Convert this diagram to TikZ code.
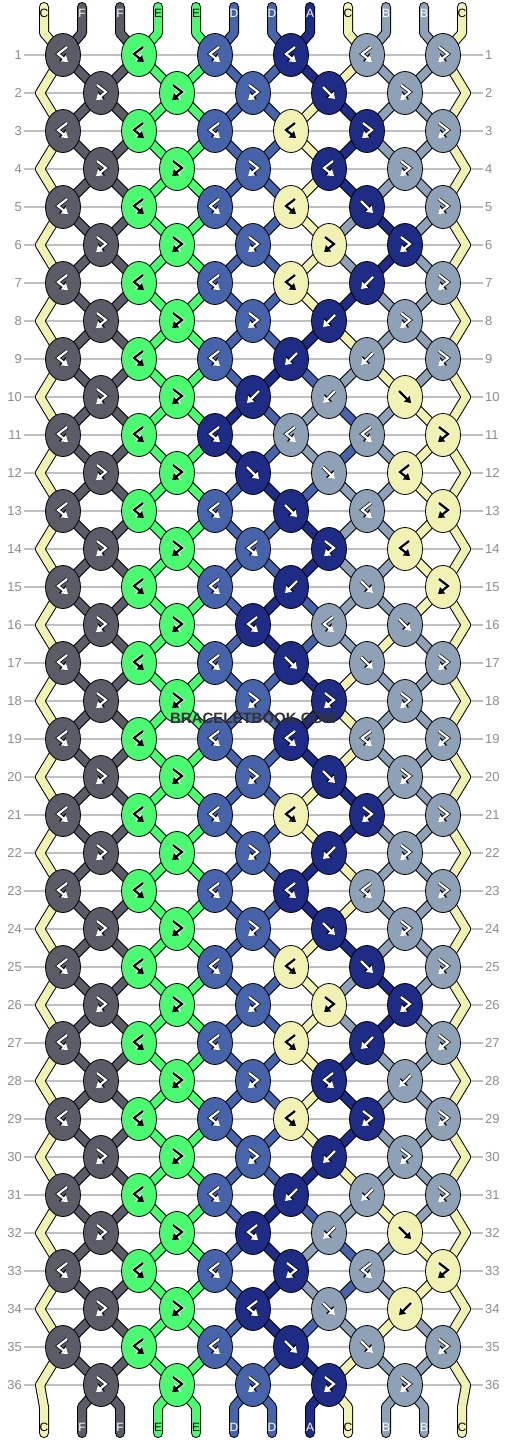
\documentclass[tikz,border=0pt]{standalone}
\usepackage{fontspec}
\setmainfont{Liberation Sans}
\usetikzlibrary{shapes.geometric,arrows.meta}

\definecolor{thrA}{HTML}{1E2C85}
\definecolor{thrB}{HTML}{8FA1B6}
\definecolor{thrC}{HTML}{F2F1B4}
\definecolor{thrD}{HTML}{4763A9}
\definecolor{thrE}{HTML}{4CFA72}
\definecolor{thrF}{HTML}{5B5C67}
\colorlet{txtA}{white}\colorlet{txtB}{white}\colorlet{txtC}{black}
\colorlet{txtD}{white}\colorlet{txtE}{black}\colorlet{txtF}{white}
\colorlet{rimA}{black}\colorlet{rimB}{black}\colorlet{rimC}{white}
\colorlet{rimD}{black}\colorlet{rimE}{white}\colorlet{rimF}{black}
\def\tyf{f}\def\tyb{b}\def\tyfb{fb}\def\tybf{bf}

% one row of knots: knot colours and the threads after the row
\newcommand\tierknots[2]{%
  \foreach \ty [count=\kn] in {#2} {%
    \ifodd#1\relax \pgfmathtruncatemacro\lp{2*\kn-1}\else \pgfmathtruncatemacro\lp{2*\kn}\fi
    \pgfmathtruncatemacro\rp{\lp+1}%
    \edef\lc{\csname s\lp\endcsname}\edef\rc{\csname s\rp\endcsname}\edef\tc{\ty}%
    \ifx\tc\tyf \edef\kc{\lc}\def\sw{1}\fi
    \ifx\tc\tyb \edef\kc{\rc}\def\sw{1}\fi
    \ifx\tc\tyfb \edef\kc{\lc}\def\sw{0}\fi
    \ifx\tc\tybf \edef\kc{\rc}\def\sw{0}\fi
    \expandafter\xdef\csname kc#1-\kn\endcsname{\kc}%
    \expandafter\xdef\csname kt#1-\kn\endcsname{\tc}%
    \ifnum\sw=1 \expandafter\xdef\csname s\lp\endcsname{\rc}\expandafter\xdef\csname s\rp\endcsname{\lc}\fi
  }%
  \foreach \p in {1,...,12} {\expandafter\xdef\csname h#1-\p\endcsname{\csname s\p\endcsname}}%
}

\begin{document}
\begin{tikzpicture}[x=1pt,y=-1pt,
  knot/.style={ellipse,draw=black,line width=0.8pt,minimum width=35pt,minimum height=43pt,inner sep=0pt},
  edgeline/.style={draw=black,line width=10pt,line cap=round,line join=round},
  threadline/.style={line width=8pt,line cap=round,line join=round},
  iconrim/.style={line width=3.6pt,-{Triangle[length=7.5pt,width=10pt]}},
  icon/.style={line width=2.2pt,-{Triangle[length=6pt,width=8pt]}},
  rowline/.style={draw=black!25,line width=1.2pt},
  rowlab/.style={text=black!45,font=\fontsize{13}{13}\selectfont,inner sep=2pt},
  endlab/.style={font=\fontsize{12}{12}\selectfont,inner sep=0pt}]
  \useasboundingbox (0,0) rectangle (506,1440);

  \foreach \p/\lt in {1/C,2/F,3/F,4/E,5/E,6/D,7/D,8/A,9/C,10/B,11/B,12/C} {
    \expandafter\xdef\csname s\p\endcsname{\lt}
    \expandafter\xdef\csname h0-\p\endcsname{\lt}
    \pgfmathsetmacro\x{44+38*(\p-1)}
    \coordinate (T-\p) at (\x,7);
    \coordinate (Tb-\p) at (\x,33);
    \coordinate (Ub-\p) at (\x,1407);
    \coordinate (U-\p) at (\x,1433);
  }
  \foreach \rw in {1,...,36} {
    \pgfmathsetmacro\y{55+38*(\rw-1)}
    \foreach \p in {1,...,12} {
      \ifodd\rw\relax
        \pgfmathsetmacro\x{76*int((\p+1)/2)-13}
      \else
        \pgfmathsetmacro\x{\p==1 ? 40 : (\p==12 ? 466 : 25+76*int(\p/2))}
      \fi
      \coordinate (P-\rw-\p) at (\x,\y);
    }
  }

  \tierknots{1}{bf,bf,bf,bf,bf,fb}
  \tierknots{2}{fb,fb,fb,f,fb}
  \tierknots{3}{bf,bf,bf,bf,fb,fb}
  \tierknots{4}{fb,fb,fb,bf,fb}
  \tierknots{5}{bf,bf,bf,bf,f,fb}
  \tierknots{6}{fb,fb,fb,fb,fb}
  \tierknots{7}{bf,bf,bf,bf,b,fb}
  \tierknots{8}{fb,fb,fb,b,fb}
  \tierknots{9}{bf,bf,bf,b,b,fb}
  \tierknots{10}{fb,fb,b,b,f}
  \tierknots{11}{bf,bf,bf,bf,bf,fb}
  \tierknots{12}{fb,fb,f,f,bf}
  \tierknots{13}{bf,bf,bf,f,bf,fb}
  \tierknots{14}{fb,fb,bf,fb,bf}
  \tierknots{15}{bf,bf,bf,b,f,fb}
  \tierknots{16}{fb,fb,bf,bf,f}
  \tierknots{17}{bf,bf,bf,f,f,fb}
  \tierknots{18}{fb,fb,fb,fb,fb}
  \tierknots{19}{bf,bf,bf,bf,bf,fb}
  \tierknots{20}{fb,fb,fb,f,fb}
  \tierknots{21}{bf,bf,bf,bf,fb,fb}
  \tierknots{22}{fb,fb,fb,b,fb}
  \tierknots{23}{bf,bf,bf,bf,bf,fb}
  \tierknots{24}{fb,fb,fb,f,fb}
  \tierknots{25}{bf,bf,bf,bf,f,fb}
  \tierknots{26}{fb,fb,fb,fb,fb}
  \tierknots{27}{bf,bf,bf,bf,b,fb}
  \tierknots{28}{fb,fb,fb,bf,b}
  \tierknots{29}{bf,bf,bf,bf,fb,fb}
  \tierknots{30}{fb,fb,fb,b,fb}
  \tierknots{31}{bf,bf,bf,b,b,fb}
  \tierknots{32}{fb,fb,bf,b,f}
  \tierknots{33}{bf,bf,bf,fb,bf,fb}
  \tierknots{34}{fb,fb,bf,f,b}
  \tierknots{35}{bf,bf,bf,f,f,fb}
  \tierknots{36}{fb,fb,fb,fb,fb}

  \foreach \rw in {1,...,36} {
    \pgfmathsetmacro\y{55+38*(\rw-1)}
    \node[rowlab,anchor=east] (L-\rw) at (24,\y) {\rw};
    \node[rowlab,anchor=west] (R-\rw) at (483,\y) {\rw};
    \draw[rowline] (L-\rw) -- (R-\rw);
  }

  \foreach \sty in {edgeline,threadline} {
    \foreach \p in {1,...,12} {
      \edef\cc{thr\csname h0-\p\endcsname}
      \draw[draw=\cc,\sty] (T-\p) -- (Tb-\p) -- (P-1-\p);
      \edef\cc{thr\csname h36-\p\endcsname}
      \draw[draw=\cc,\sty] (P-36-\p) -- (Ub-\p) -- (U-\p);
      \foreach \rw in {1,...,35} {
        \pgfmathtruncatemacro\nx{\rw+1}
        \edef\cc{thr\csname h\rw-\p\endcsname}
        \draw[draw=\cc,\sty] (P-\rw-\p) -- (P-\nx-\p);
      }
    }
  }

  \foreach \rw in {1,...,36} {
    \ifodd\rw\relax \def\nk{6}\else \def\nk{5}\fi
    \foreach \kn in {1,...,\nk} {
      \ifodd\rw\relax \pgfmathtruncatemacro\lp{2*\kn-1}\else \pgfmathtruncatemacro\lp{2*\kn}\fi
      \edef\fc{thr\csname kc\rw-\kn\endcsname}
      \edef\kt{\csname kt\rw-\kn\endcsname}
      \node[knot,fill=\fc] (K-\rw-\kn) at (P-\rw-\lp) {};
      \foreach \ist/\ipre in {iconrim/rim,icon/txt} {
        \edef\ac{\ipre\csname kc\rw-\kn\endcsname}
        \begin{scope}[shift={(K-\rw-\kn.center)},color=\ac]
          \ifx\kt\tyf \draw[\ist] (-6,-6) -- (6,6);\fi
          \ifx\kt\tyb \draw[\ist] (6,-6) -- (-6,6);\fi
          \ifx\kt\tyfb \draw[\ist] (-4,-8) -- (5,-1) -- (-5,7);\fi
          \ifx\kt\tybf \draw[\ist] (4,-8) -- (-5,-1) -- (5,7);\fi
        \end{scope}
      }
    }
  }

  \foreach \p in {1,...,12} {
    \edef\lt{\csname h0-\p\endcsname}
    \node[endlab,text=txt\lt] (N-\p) at (T-\p |- 0,13) {\lt};
    \edef\lt{\csname h36-\p\endcsname}
    \node[endlab,text=txt\lt] (S-\p) at (U-\p |- 0,1427) {\lt};
  }
  \node[font=\bfseries\fontsize{15}{15}\selectfont,text=black!80] (mark) at (253,718) {BRACELETBOOK.COM};
\end{tikzpicture}
\end{document}
